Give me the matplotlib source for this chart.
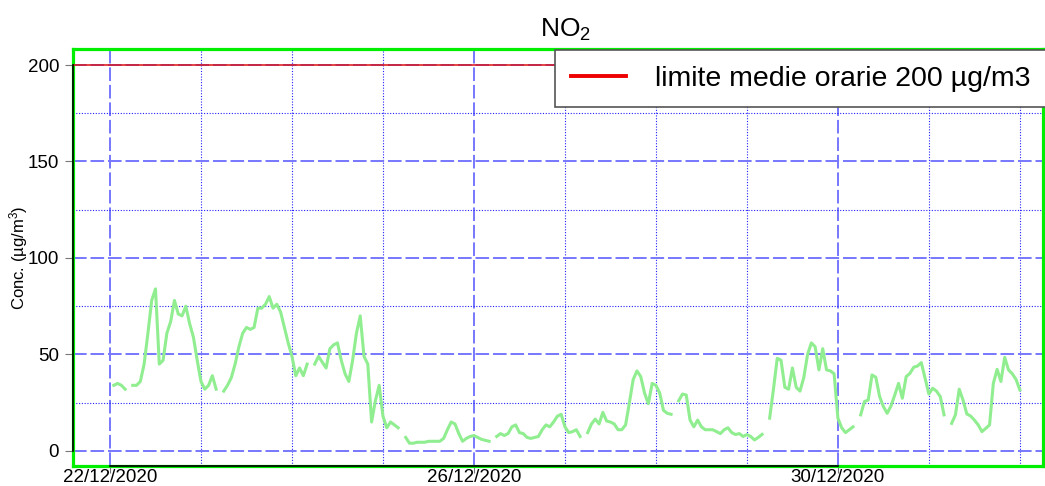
import numpy as np
import pandas as pd
import matplotlib
matplotlib.use("Agg")
import matplotlib.pyplot as plt
import matplotlib.dates as mdates
from matplotlib.lines import Line2D

plt.rcParams['font.family'] = ['Liberation Sans', 'DejaVu Sans']
plt.rcParams['mathtext.fontset'] = 'custom'
plt.rcParams['mathtext.rm'] = 'Liberation Sans'
plt.rcParams['mathtext.it'] = 'Liberation Sans:italic'

nan = np.nan

# === dati orari NO2 (ug/m3), 22/12/2020 01:00 -> 01/01/2021 00:00 ===
start_time = "2020-12-22 01:00"
no2_day1 = [34, 35, 34, 32, nan, 34, 34, 36, 45, 61, 78, 84, 45, 47, 61, 67, 78, 71, 70, 75, 66, 59, 47, 36]
no2_day2 = [32, 34, 39, 32, nan, 31, 34, 38, 45, 54, 61, 64, 63, 64, 74, 74, 76, 80, 74, 76, 72, 64, 56, 49]
no2_day3 = [39, 43, 39, 45, nan, 45, 49, 46, 43, 53, 55, 56, 47, 40, 36, 47, 61, 70, 49, 45, 15, 26, 34, 18]
no2_day4 = [12, 15, 13.5, 12, nan, 7, 4, 4, 4.5, 4.5, 4.5, 5, 5, 5, 5, 6.5, 11, 15, 14, 9, 5, 6.5, 7.5, 8]
no2_day5 = [7, 6, 5.5, 5, nan, 7.5, 9, 8, 9, 12.5, 13.5, 9.5, 9, 7, 6.5, 7, 7.5, 11, 13.5, 12.5, 15, 18, 19, 12.5]
no2_day6 = [9.5, 10, 11, 7.5, nan, 9.5, 14, 16.5, 14, 20, 15.5, 15, 14, 11, 11, 13.5, 25, 37, 41.5, 38.5, 30, 24.5, 35, 34]
no2_day7 = [30, 21, 19.5, 19, nan, 26, 29.5, 29, 16, 12.5, 16, 12.5, 11, 11, 11, 10, 9, 11, 12, 9.5, 8.5, 9, 7.5, 8.5]
no2_day8 = [7.5, 5.7, 7, 8.6, nan, 17, 32, 48, 47, 33, 32, 43, 33, 31, 38, 50, 56, 54, 42, 53, 42, 41.5, 40, 17]
no2_day9 = [12, 9.5, 11, 12.5, nan, 18.7, 25.6, 26.4, 39.4, 38.2, 28.2, 23, 19.5, 23.3, 29, 35, 27.3, 38.5, 40.2, 43.4, 44, 45.8, 37.7, 29.5]
no2_day10 = [32.5, 31, 28.2, 18.7, nan, 14.3, 18.7, 32, 26.4, 19.2, 18.1, 16, 13.5, 10, 11.7, 13.5, 35, 42.3, 36, 48.5, 42, 40, 37, 31.6]

no2 = (no2_day1 + no2_day2 + no2_day3 + no2_day4 + no2_day5
       + no2_day6 + no2_day7 + no2_day8 + no2_day9 + no2_day10)
times = pd.date_range(start_time, periods=len(no2), freq="h")

limite = 200
limite_label = "limite medie orarie 200 µg/m3"
y_ticks = [0, 50, 100, 150, 200]
x_tick_labels = ["22/12/2020", "26/12/2020", "30/12/2020"]
x_ticks = pd.to_datetime(x_tick_labels, format="%d/%m/%Y")

# === figura ===
fig = plt.figure(figsize=(10.45, 4.86), dpi=100)
ax = fig.add_axes([73 / 1045, 20 / 486, 970 / 1045, 417 / 486])

ax.plot(times, no2, color="#90ee90", lw=2.2, zorder=3)
ax.axhline(limite, color="#dd1111", lw=1.1, zorder=3)

t0 = pd.Timestamp("2020-12-22")
x_left = t0 - pd.Timedelta(hours=9.76)
ax.set_xlim(x_left, t0 + pd.Timedelta(hours=246.1))
ax.set_ylim(-7.8, 208.3)

ax.set_yticks(y_ticks)
ax.set_yticks([25, 75, 125, 175], minor=True)
ax.set_xticks(x_ticks)
ax.set_xticklabels(x_tick_labels)
ax.xaxis.set_minor_locator(mdates.DayLocator())

ax.tick_params(which="major", length=6, color="#777777", labelsize=13.5)
ax.tick_params(axis="y", which="major", pad=4)
ax.tick_params(axis="x", which="major", length=5, pad=-2.5)
ax.tick_params(which="minor", length=0)

# griglia stile R
ax.grid(which="major", color="#7777ff", ls=(0, (7, 2)), lw=1.4, zorder=1)
ax.grid(which="minor", color="#2222ff", ls=(0, (1, 1.5)), lw=0.8, zorder=1)
ax.set_axisbelow(True)

for s in ax.spines.values():
    s.set_color("#00ee00")
    s.set_linewidth(2.3)

# linee degli assi fra primo e ultimo tick
ax.plot([x_ticks[0], x_ticks[-1]], [-7.8, -7.8], color="black", lw=1.2, clip_on=False, zorder=5)
ax.plot([x_left] * 2, [y_ticks[0], y_ticks[-1]], color="black", lw=1.2, clip_on=False, zorder=5)

ax.set_ylabel("Conc. (µg/m$^3$)", fontsize=12)
ax.yaxis.set_label_coords(-0.044, 0.5)

fig.text(566 / 1045, 1 - 30 / 486, "NO$_2$", ha="center", va="center", fontsize=19)

leg = ax.legend(handles=[Line2D([0], [0], color="#ee0000", lw=2.8, label=limite_label)],
                loc="upper left", bbox_to_anchor=(555 / 1045, 1 - 50 / 486),
                bbox_transform=fig.transFigure, fontsize=20.5, frameon=True, fancybox=False,
                framealpha=1, edgecolor="#555555", borderpad=0.55, handlelength=1.95,
                handletextpad=1.0, borderaxespad=0)
leg.get_frame().set_linewidth(1.2)
leg.set_zorder(6)

# la linea rossa copre la griglia a 200
for tick in ax.yaxis.get_major_ticks():
    if tick.get_loc() == limite:
        tick.gridline.set_visible(False)

fig.savefig("out.png", dpi=100)
